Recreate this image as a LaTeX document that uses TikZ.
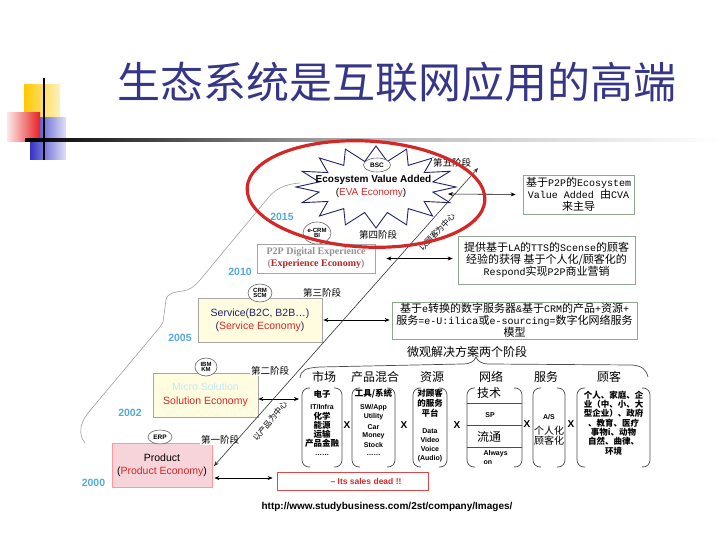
\documentclass[tikz,border=0pt]{standalone}
\usepackage{fontspec}
\setmainfont{Liberation Sans}
\newfontfamily\cjk{Noto Sans CJK SC}
\newfontfamily\serifrm{Liberation Serif}
\newfontfamily\monof{Liberation Mono}
\usetikzlibrary{arrows.meta,shapes.geometric}
\definecolor{titleblue}{HTML}{363688}
\definecolor{yearblue}{HTML}{55A9DD}
\definecolor{navy}{HTML}{22226E}
\definecolor{ecored}{HTML}{D42828}
\definecolor{boxgreen}{HTML}{8FA88F}
\definecolor{lightyel}{HTML}{FFFCDF}
\definecolor{pinkfill}{HTML}{F7D3DA}
\definecolor{yellowc}{HTML}{FFC800}
\definecolor{bluec}{HTML}{3434C8}
\definecolor{redc}{HTML}{E82020}
\newcommand\monoseg[1]{{\monof\fontsize{10}{12}\selectfont #1}}
\newcommand\brackbox[4]{%
  \draw[brk,rounded corners=7pt] (#1+8,#2) -- (#1,#2) -- (#1,#4) -- (#1+8,#4);
  \draw[brk,rounded corners=7pt] (#3-8,#2) -- (#3,#2) -- (#3,#4) -- (#3-8,#4);}
\tikzset{
  dbl/.style={{Stealth[length=5pt,width=4pt]}-{Stealth[length=5pt,width=4pt]}, line width=0.6pt, black},
  infobox/.style={draw=boxgreen, line width=0.7pt, fill=white, align=center, inner sep=1pt, font=\cjk\fontsize{11}{12}\selectfont},
  stagelbl/.style={fill=white, inner sep=1pt, font=\cjk\fontsize{9.5}{10}\selectfont},
  yearlbl/.style={text=yearblue, font=\bfseries\fontsize{10.5}{12}\selectfont},
  tag/.style={ellipse, draw=gray!80!black, fill=white, line width=0.6pt, inner sep=0pt, font=\bfseries\fontsize{6}{6.5}\selectfont, align=center},
  ecobox/.style={draw=gray!70, line width=0.7pt, align=center, inner sep=0pt},
  colhead/.style={font=\cjk\fontsize{12}{13}\selectfont},
  cjksm/.style={font=\cjk\bfseries\fontsize{8.5}{9}\selectfont},
  latsm/.style={font=\bfseries\fontsize{7}{8}\selectfont},
  brk/.style={draw=gray!60!black, line width=0.7pt},
  xsep/.style={font=\bfseries\fontsize{10}{11}\selectfont},
  stair/.style={draw=gray!75, line width=0.6pt},
}
\begin{document}
\begin{tikzpicture}[x=1pt,y=-1pt]
\useasboundingbox (0,0) rectangle (720,540);
% decoration top-left
\fill[left color=yellowc, right color=yellowc!25] (24,85) rectangle (60,118);
\fill[left color=bluec, right color=bluec!15] (30,118) rectangle (66,160);
\fill[left color=redc!10, right color=redc] (7,113) rectangle (40,142);
\shade[left color=black, right color=white, middle color=gray!55] (25,139) rectangle (720,141.6);
\draw[line width=1.8pt] (44,78) -- (44,160);
% title
\node[font=\cjk\fontsize{43}{45}\selectfont, text=titleblue] (title) at (397,82) {生态系统是互联网应用的高端};

% staircase line
\draw[stair] (85,443) .. controls (78,435) and (80,423) .. (88,413) -- (160,327) -- (163,322) -- (166,300)
  .. controls (167,293) and (175,292) .. (183,291) .. controls (190,290) and (195,286) .. (200,280)
  -- (268,198) .. controls (275,189) and (285,184) .. (300,183);

% starburst
\draw[navy, line width=0.9pt, fill=white] plot[samples at={0,11.25,...,348.75}]
  ({376+ifthenelse(mod(round(\x/11.25),2)==0,80,58)*cos(\x)}, {187+ifthenelse(mod(round(\x/11.25),2)==0,41,26)*sin(\x)}) -- cycle;
\node[tag, minimum width=27pt, minimum height=14pt, font=\bfseries\fontsize{6.5}{7}\selectfont] (bsc) at (377,165) {BSC};
\node[font=\bfseries\fontsize{10}{11}\selectfont] (eva1) at (373.5,180) {Ecosystem Value Added};
\node[font=\fontsize{10}{11}\selectfont] (eva2) at (371,193) {(\textcolor{ecored}{EVA Economy})};
\coordinate (evaR) at (448,194);

% years
\node[yearlbl] (y2015) at (282,217) {2015};
\node[yearlbl] (y2010) at (240,272) {2010};
\node[yearlbl] (y2005) at (180,338) {2005};
\node[yearlbl] (y2002) at (130,413) {2002};
\node[yearlbl] (y2000) at (93.5,483) {2000};

% tags behind boxes
\node[tag, minimum width=28pt, minimum height=22pt] (ecrm) at (317,233) {e-CRM\\[-1pt]BI};

% economy boxes
\node[ecobox, fill=white, minimum width=118pt, minimum height=29pt, font=\serifrm\bfseries\fontsize{10}{12}\selectfont] (p2p) at (316,258.5)
  {\textcolor{gray!85}{P2P Digital Experience}\\\textcolor{gray!85}{(}\textcolor{ecored!90!black}{Experience Economy}\textcolor{gray!85}{)}};
\node[ecobox, fill=lightyel, minimum width=124pt, minimum height=44pt, font=\fontsize{10.5}{13}\selectfont] (svc) at (260,320)
  {\textcolor{navy}{Service(B2C, B2B…)}\\\textcolor{navy}{(}\textcolor{ecored}{Service Economy}\textcolor{navy}{)}};
\node[ecobox, fill=lightyel, minimum width=105pt, minimum height=44pt, font=\fontsize{10.5}{14}\selectfont] (sol) at (205.5,395)
  {\textcolor{cyan!25!white}{Micro Solution}\\\textcolor{ecored}{Solution Economy}};
\node[ecobox, draw=red!40, fill=pinkfill, minimum width=100pt, minimum height=44pt, font=\fontsize{10.5}{13}\selectfont] (prod) at (162,465)
  {Product\\(\textcolor{ecored}{Product Economy})};
\node[draw=ecored!85, line width=0.8pt, minimum width=151pt, minimum height=18pt] (sales) at (352.5,481) {};
\node[text=ecored, font=\bfseries\fontsize{8.5}{9}\selectfont] (salest) at (366,481) {– Its sales dead !!};

% tags
\node[tag, minimum width=24pt, minimum height=18pt] (crm) at (260,293) {CRM\\[-1.5pt]SCM};
\node[tag, minimum width=22pt, minimum height=18pt] (ibm) at (206,367) {IBM\\[-1.5pt]KM};
\node[tag, minimum width=24pt, minimum height=14pt, font=\bfseries\fontsize{6.5}{7}\selectfont] (erp) at (160,437) {ERP};

% stage labels
\node[stagelbl] (st5) at (452,163) {第五阶段};
\node[stagelbl] (st4) at (378,235) {第四阶段};
\node[stagelbl] (st3) at (322,293) {第三阶段};
\node[stagelbl] (st2) at (270,371) {第二阶段};
\node[stagelbl] (st1) at (220,440) {第一阶段};

% info boxes
\node[infobox, minimum width=111pt, minimum height=39pt] (box1) at (578.5,194.5)
  {基于\monoseg{P2P}的\monoseg{Ecosystem}\\\monoseg{Value Added }由\monoseg{CVA}\\来主导};
\node[infobox, minimum width=177pt, minimum height=48pt] (box2) at (546.5,260)
  {提供基于\monoseg{LA}的\monoseg{TTS}的\monoseg{Scense}的顾客\\经验的获得 基于个人化/顾客化的\\\monoseg{Respond}实现\monoseg{P2P}商业营销};
\node[infobox, minimum width=245pt, minimum height=37pt] (box3) at (514.5,320.5)
  {基于\monoseg{e}转换的数字服务器\monoseg{\&}基于\monoseg{CRM}的产品\monoseg{+}资源\monoseg{+}\\服务\monoseg{=e-U:ilica}或\monoseg{e-sourcing=}数字化网络服务\\模型};

% horizontal arrows
\draw[dbl, shorten >=7pt] (evaR) -- (box1.west);
\draw[dbl, shorten <=11pt, shorten >=5pt] (p2p.east) -- (p2p.east -| box2.west);
\draw[dbl, shorten <=1pt, shorten >=2pt] (svc.east) -- (svc.east -| box3.west);
\coordinate (c1w) at (299,399);
\draw[dbl] ([yshift=-4pt]sol.east) -- (c1w);
\draw[dbl, shorten <=2pt, shorten >=4pt] (prod.east |- 0,478) -- (sales.west |- 0,478);

% long diagonal arrow
\coordinate (dA) at (214,466);
\coordinate (dB) at (478,168);
\draw[dbl, draw=gray!40!black] (dA) -- (dB);
\node[font=\cjk\fontsize{8}{9}\selectfont, rotate=47] (cust) at (437,232) {以顾客为中心};
\node[font=\cjk\fontsize{8}{9}\selectfont, rotate=50] (prodc) at (270,421) {以产品为中心};

% micro solution brace
\node[font=\cjk\fontsize{12}{13}\selectfont] (micro) at (467,352) {微观解决方案两个阶段};
\draw[brk] (300,378) .. controls (301,370) and (305,368) .. (320,367) -- (462,364)
  .. controls (470,364) and (474,362) .. (476,357) .. controls (478,362) and (482,364) .. (490,364)
  -- (632,365) .. controls (642,366) and (646,369) .. (648,377);

% column headers
\node[colhead] (h1) at (324,377) {市场};
\node[colhead] (h2) at (375,377) {产品混合};
\node[colhead] (h3) at (432,377) {资源};
\node[colhead] (h4) at (491,377) {网络};
\node[colhead] (h5) at (546,377) {服务};
\node[colhead] (h6) at (609,377) {顾客};

% column brackets
\brackbox{302}{388}{342}{467}
\brackbox{352}{388}{395}{467}
\brackbox{413}{388}{447}{467}
\brackbox{467}{388}{522}{467}
\brackbox{533}{388}{565}{467}
\brackbox{577}{388}{650}{467}
\draw[brk] (467,403) -- (522,403);
\draw[brk] (467,425) -- (522,425);
\draw[brk] (467,447) -- (522,447);

% column 1
\node[cjksm] (c1a) at (322,394) {电子};
\node[latsm] (c1b) at (322,407) {IT/Infra};
\node[cjksm] (c1c) at (322,416) {化学};
\node[cjksm] (c1d) at (322,425) {能源};
\node[cjksm] (c1e) at (322,434) {运输};
\node[cjksm] (c1f) at (322,443) {产品金融};
\node[latsm] (c1g) at (322,455) {……};
% column 2
\node[cjksm] (c2a) at (373.5,394) {工具/系统};
\node[latsm] (c2b) at (373.5,408) {SW/App};
\node[latsm] (c2c) at (373.5,417) {Utility};
\node[latsm] (c2d) at (373.5,427) {Car};
\node[latsm] (c2e) at (373.5,436) {Money};
\node[latsm] (c2f) at (373.5,445) {Stock};
\node[latsm] (c2g) at (373.5,455) {……};
% column 3
\node[cjksm] (c3a) at (430,393) {对顾客};
\node[cjksm] (c3b) at (430,403) {的服务};
\node[cjksm] (c3c) at (430,413) {平台};
\node[latsm] (c3d) at (430,431) {Data};
\node[latsm] (c3e) at (430,440) {Video};
\node[latsm] (c3f) at (430,449) {Voice};
\node[latsm] (c3g) at (430,459) {(Audio)};
% column 4
\node[font=\cjk\fontsize{12}{13}\selectfont] (c4a) at (489,393) {技术};
\node[latsm] (c4b) at (490,415) {SP};
\node[font=\cjk\fontsize{12}{13}\selectfont] (c4c) at (489,437) {流通};
\node[latsm, align=left, anchor=west, font=\bfseries\fontsize{7}{9}\selectfont] (c4d) at (480,457.5) {Always\\on};
% column 5
\node[latsm] (c5a) at (549,417) {A/S};
\node[font=\cjk\fontsize{10}{10}\selectfont] (c5b) at (549,431) {个人化};
\node[font=\cjk\fontsize{10}{10}\selectfont] (c5c) at (549,441) {顾客化};
% column 6
\node[cjksm, align=center, font=\cjk\bfseries\fontsize{8.5}{9.3}\selectfont] (c6) at (613.5,423)
  {个人、家庭、企\\业（中、小、大\\型企业）、政府\\、教育、医疗\\事物i、动物\\自然、曲律、\\环境};

% X separators
\node[xsep] (x1) at (347,425) {X};
\node[xsep] (x2) at (404,425) {X};
\node[xsep] (x3) at (457,425) {X};
\node[xsep] (x4) at (527,424) {X};
\node[xsep] (x5) at (571,424) {X};

% URL
\node[font=\bfseries\fontsize{10}{11}\selectfont] (url) at (387,507) {http://www.studybusiness.com/2st/company/Images/};

% red ellipse
\draw[ecored, line width=3.2pt, rotate around={-3:(366,194)}] (366,194) ellipse [x radius=119, y radius=53];
\end{tikzpicture}
\end{document}
